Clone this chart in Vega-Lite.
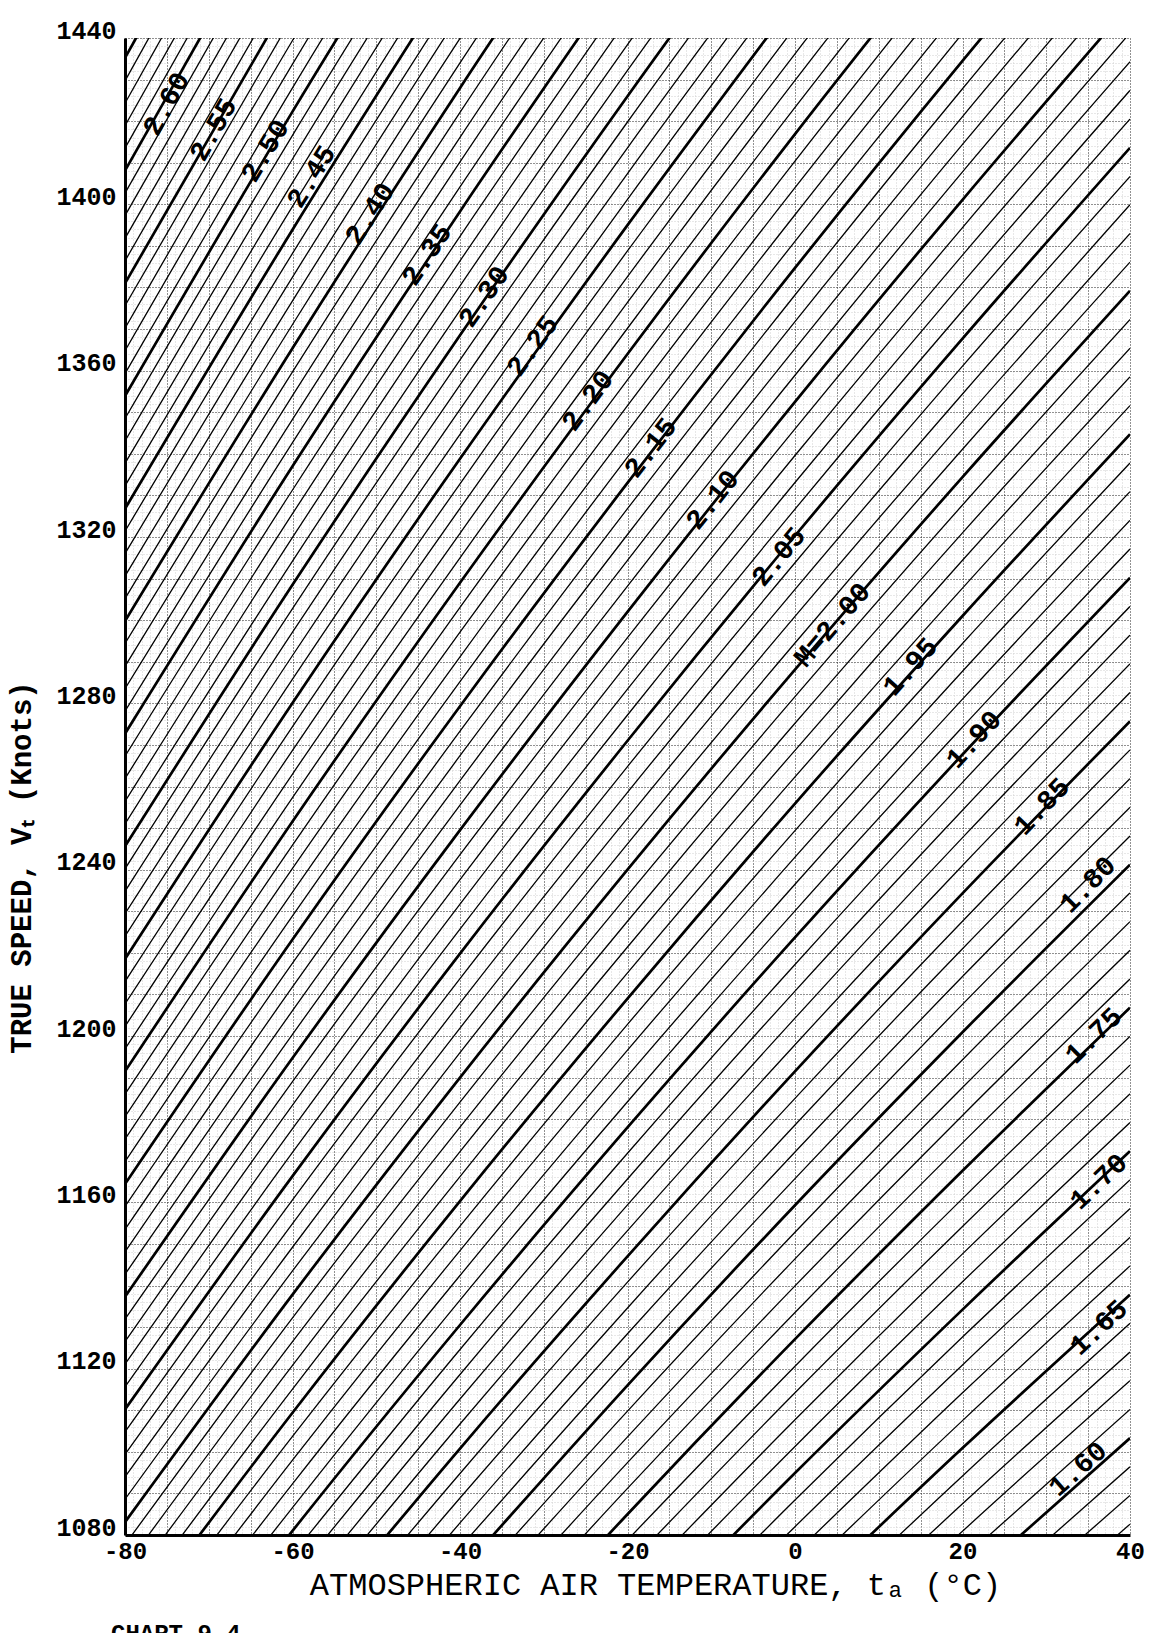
{
"$schema":"https://vega.github.io/schema/vega-lite/v6.json",
"width":1005,"height":1497,
"autosize":{"type":"none"},
"padding":{"left":125,"top":38,"right":21,"bottom":98},
"background":"white",
"config":{"view":{"stroke":null}},
"title":{"text":"CHART 9-4","orient":"bottom","anchor":"start","frame":"group","font":"Liberation Mono","fontSize":24,"fontWeight":"bold","color":"black","baseline":"top","offset":22,"dx":-14},
"datasets":{
"curves":[
{"M":1.57,"t":20,"V":1047.5},{"M":1.57,"t":40,"V":1082.6},
{"M":1.58,"t":20,"V":1054.2},{"M":1.58,"t":40,"V":1089.5},
{"M":1.59,"t":20,"V":1060.8},{"M":1.59,"t":40,"V":1096.4},
{"M":1.60,"t":20,"V":1067.5},{"M":1.60,"t":40,"V":1103.3},
{"M":1.61,"t":20,"V":1074.2},{"M":1.61,"t":40,"V":1110.2},
{"M":1.62,"t":0,"V":1043.3},{"M":1.62,"t":20,"V":1080.9},{"M":1.62,"t":40,"V":1117.1},
{"M":1.63,"t":0,"V":1049.8},{"M":1.63,"t":20,"V":1087.5},{"M":1.63,"t":40,"V":1124.0},
{"M":1.64,"t":0,"V":1056.2},{"M":1.64,"t":20,"V":1094.2},{"M":1.64,"t":40,"V":1130.9},
{"M":1.65,"t":0,"V":1062.7},{"M":1.65,"t":20,"V":1100.9},{"M":1.65,"t":40,"V":1137.8},
{"M":1.66,"t":0,"V":1069.1},{"M":1.66,"t":20,"V":1107.5},{"M":1.66,"t":40,"V":1144.7},
{"M":1.67,"t":0,"V":1075.5},{"M":1.67,"t":20,"V":1114.2},{"M":1.67,"t":40,"V":1151.6},
{"M":1.68,"t":-20,"V":1041.6},{"M":1.68,"t":0,"V":1082.0},{"M":1.68,"t":20,"V":1120.9},{"M":1.68,"t":40,"V":1158.5},
{"M":1.69,"t":-20,"V":1047.8},{"M":1.69,"t":0,"V":1088.4},{"M":1.69,"t":20,"V":1127.6},{"M":1.69,"t":40,"V":1165.4},
{"M":1.70,"t":-20,"V":1054.0},{"M":1.70,"t":0,"V":1094.9},{"M":1.70,"t":20,"V":1134.2},{"M":1.70,"t":40,"V":1172.3},
{"M":1.71,"t":-20,"V":1060.2},{"M":1.71,"t":0,"V":1101.3},{"M":1.71,"t":20,"V":1140.9},{"M":1.71,"t":40,"V":1179.2},
{"M":1.72,"t":-20,"V":1066.4},{"M":1.72,"t":0,"V":1107.7},{"M":1.72,"t":20,"V":1147.6},{"M":1.72,"t":40,"V":1186.1},
{"M":1.73,"t":-20,"V":1072.6},{"M":1.73,"t":0,"V":1114.2},{"M":1.73,"t":20,"V":1154.2},{"M":1.73,"t":40,"V":1193.0},
{"M":1.74,"t":-20,"V":1078.8},{"M":1.74,"t":0,"V":1120.6},{"M":1.74,"t":20,"V":1160.9},{"M":1.74,"t":40,"V":1199.9},
{"M":1.75,"t":-40,"V":1041.3},{"M":1.75,"t":-20,"V":1085.0},{"M":1.75,"t":0,"V":1127.1},{"M":1.75,"t":20,"V":1167.6},{"M":1.75,"t":40,"V":1206.8},
{"M":1.76,"t":-40,"V":1047.2},{"M":1.76,"t":-20,"V":1091.2},{"M":1.76,"t":0,"V":1133.5},{"M":1.76,"t":20,"V":1174.3},{"M":1.76,"t":40,"V":1213.7},
{"M":1.77,"t":-40,"V":1053.2},{"M":1.77,"t":-20,"V":1097.4},{"M":1.77,"t":0,"V":1139.9},{"M":1.77,"t":20,"V":1180.9},{"M":1.77,"t":40,"V":1220.6},
{"M":1.78,"t":-40,"V":1059.1},{"M":1.78,"t":-20,"V":1103.6},{"M":1.78,"t":0,"V":1146.4},{"M":1.78,"t":20,"V":1187.6},{"M":1.78,"t":40,"V":1227.5},
{"M":1.79,"t":-40,"V":1065.1},{"M":1.79,"t":-20,"V":1109.8},{"M":1.79,"t":0,"V":1152.8},{"M":1.79,"t":20,"V":1194.3},{"M":1.79,"t":40,"V":1234.4},
{"M":1.80,"t":-40,"V":1071.0},{"M":1.80,"t":-20,"V":1116.0},{"M":1.80,"t":0,"V":1159.3},{"M":1.80,"t":20,"V":1200.9},{"M":1.80,"t":40,"V":1241.2},
{"M":1.81,"t":-40,"V":1077.0},{"M":1.81,"t":-20,"V":1122.2},{"M":1.81,"t":0,"V":1165.7},{"M":1.81,"t":20,"V":1207.6},{"M":1.81,"t":40,"V":1248.1},
{"M":1.82,"t":-60,"V":1035.4},{"M":1.82,"t":-40,"V":1082.9},{"M":1.82,"t":-20,"V":1128.4},{"M":1.82,"t":0,"V":1172.1},{"M":1.82,"t":20,"V":1214.3},{"M":1.82,"t":40,"V":1255.0},
{"M":1.83,"t":-60,"V":1041.1},{"M":1.83,"t":-40,"V":1088.9},{"M":1.83,"t":-20,"V":1134.6},{"M":1.83,"t":0,"V":1178.6},{"M":1.83,"t":20,"V":1221.0},{"M":1.83,"t":40,"V":1261.9},
{"M":1.84,"t":-60,"V":1046.8},{"M":1.84,"t":-40,"V":1094.8},{"M":1.84,"t":-20,"V":1140.8},{"M":1.84,"t":0,"V":1185.0},{"M":1.84,"t":20,"V":1227.6},{"M":1.84,"t":40,"V":1268.8},
{"M":1.85,"t":-60,"V":1052.5},{"M":1.85,"t":-40,"V":1100.8},{"M":1.85,"t":-20,"V":1147.0},{"M":1.85,"t":0,"V":1191.5},{"M":1.85,"t":20,"V":1234.3},{"M":1.85,"t":40,"V":1275.7},
{"M":1.86,"t":-60,"V":1058.2},{"M":1.86,"t":-40,"V":1106.7},{"M":1.86,"t":-20,"V":1153.2},{"M":1.86,"t":0,"V":1197.9},{"M":1.86,"t":20,"V":1241.0},{"M":1.86,"t":40,"V":1282.6},
{"M":1.87,"t":-60,"V":1063.9},{"M":1.87,"t":-40,"V":1112.7},{"M":1.87,"t":-20,"V":1159.4},{"M":1.87,"t":0,"V":1204.3},{"M":1.87,"t":20,"V":1247.7},{"M":1.87,"t":40,"V":1289.5},
{"M":1.88,"t":-60,"V":1069.6},{"M":1.88,"t":-40,"V":1118.6},{"M":1.88,"t":-20,"V":1165.6},{"M":1.88,"t":0,"V":1210.8},{"M":1.88,"t":20,"V":1254.3},{"M":1.88,"t":40,"V":1296.4},
{"M":1.89,"t":-60,"V":1075.3},{"M":1.89,"t":-40,"V":1124.6},{"M":1.89,"t":-20,"V":1171.8},{"M":1.89,"t":0,"V":1217.2},{"M":1.89,"t":20,"V":1261.0},{"M":1.89,"t":40,"V":1303.3},
{"M":1.90,"t":-80,"V":1029.0},{"M":1.90,"t":-60,"V":1081.0},{"M":1.90,"t":-40,"V":1130.5},{"M":1.90,"t":-20,"V":1178.0},{"M":1.90,"t":0,"V":1223.7},{"M":1.90,"t":20,"V":1267.7},{"M":1.90,"t":40,"V":1310.2},
{"M":1.91,"t":-80,"V":1034.4},{"M":1.91,"t":-60,"V":1086.6},{"M":1.91,"t":-40,"V":1136.5},{"M":1.91,"t":-20,"V":1184.2},{"M":1.91,"t":0,"V":1230.1},{"M":1.91,"t":20,"V":1274.3},{"M":1.91,"t":40,"V":1317.1},
{"M":1.92,"t":-80,"V":1039.8},{"M":1.92,"t":-60,"V":1092.3},{"M":1.92,"t":-40,"V":1142.4},{"M":1.92,"t":-20,"V":1190.4},{"M":1.92,"t":0,"V":1236.5},{"M":1.92,"t":20,"V":1281.0},{"M":1.92,"t":40,"V":1324.0},
{"M":1.93,"t":-80,"V":1045.2},{"M":1.93,"t":-60,"V":1098.0},{"M":1.93,"t":-40,"V":1148.4},{"M":1.93,"t":-20,"V":1196.6},{"M":1.93,"t":0,"V":1243.0},{"M":1.93,"t":20,"V":1287.7},{"M":1.93,"t":40,"V":1330.9},
{"M":1.94,"t":-80,"V":1050.7},{"M":1.94,"t":-60,"V":1103.7},{"M":1.94,"t":-40,"V":1154.3},{"M":1.94,"t":-20,"V":1202.8},{"M":1.94,"t":0,"V":1249.4},{"M":1.94,"t":20,"V":1294.4},{"M":1.94,"t":40,"V":1337.8},
{"M":1.95,"t":-80,"V":1056.1},{"M":1.95,"t":-60,"V":1109.4},{"M":1.95,"t":-40,"V":1160.3},{"M":1.95,"t":-20,"V":1209.0},{"M":1.95,"t":0,"V":1255.9},{"M":1.95,"t":20,"V":1301.0},{"M":1.95,"t":40,"V":1344.7},
{"M":1.96,"t":-80,"V":1061.5},{"M":1.96,"t":-60,"V":1115.1},{"M":1.96,"t":-40,"V":1166.2},{"M":1.96,"t":-20,"V":1215.2},{"M":1.96,"t":0,"V":1262.3},{"M":1.96,"t":20,"V":1307.7},{"M":1.96,"t":40,"V":1351.6},
{"M":1.97,"t":-80,"V":1066.9},{"M":1.97,"t":-60,"V":1120.8},{"M":1.97,"t":-40,"V":1172.2},{"M":1.97,"t":-20,"V":1221.4},{"M":1.97,"t":0,"V":1268.7},{"M":1.97,"t":20,"V":1314.4},{"M":1.97,"t":40,"V":1358.5},
{"M":1.98,"t":-80,"V":1072.3},{"M":1.98,"t":-60,"V":1126.5},{"M":1.98,"t":-40,"V":1178.1},{"M":1.98,"t":-20,"V":1227.6},{"M":1.98,"t":0,"V":1275.2},{"M":1.98,"t":20,"V":1321.0},{"M":1.98,"t":40,"V":1365.4},
{"M":1.99,"t":-80,"V":1077.7},{"M":1.99,"t":-60,"V":1132.2},{"M":1.99,"t":-40,"V":1184.1},{"M":1.99,"t":-20,"V":1233.8},{"M":1.99,"t":0,"V":1281.6},{"M":1.99,"t":20,"V":1327.7},{"M":1.99,"t":40,"V":1372.3},
{"M":2.00,"t":-80,"V":1083.1},{"M":2.00,"t":-60,"V":1137.8},{"M":2.00,"t":-40,"V":1190.0},{"M":2.00,"t":-20,"V":1240.0},{"M":2.00,"t":0,"V":1288.1},{"M":2.00,"t":20,"V":1334.4},{"M":2.00,"t":40,"V":1379.2},
{"M":2.01,"t":-80,"V":1088.6},{"M":2.01,"t":-60,"V":1143.5},{"M":2.01,"t":-40,"V":1196.0},{"M":2.01,"t":-20,"V":1246.2},{"M":2.01,"t":0,"V":1294.5},{"M":2.01,"t":20,"V":1341.1},{"M":2.01,"t":40,"V":1386.1},
{"M":2.02,"t":-80,"V":1094.0},{"M":2.02,"t":-60,"V":1149.2},{"M":2.02,"t":-40,"V":1201.9},{"M":2.02,"t":-20,"V":1252.4},{"M":2.02,"t":0,"V":1300.9},{"M":2.02,"t":20,"V":1347.7},{"M":2.02,"t":40,"V":1393.0},
{"M":2.03,"t":-80,"V":1099.4},{"M":2.03,"t":-60,"V":1154.9},{"M":2.03,"t":-40,"V":1207.9},{"M":2.03,"t":-20,"V":1258.6},{"M":2.03,"t":0,"V":1307.4},{"M":2.03,"t":20,"V":1354.4},{"M":2.03,"t":40,"V":1399.9},
{"M":2.04,"t":-80,"V":1104.8},{"M":2.04,"t":-60,"V":1160.6},{"M":2.04,"t":-40,"V":1213.8},{"M":2.04,"t":-20,"V":1264.8},{"M":2.04,"t":0,"V":1313.8},{"M":2.04,"t":20,"V":1361.1},{"M":2.04,"t":40,"V":1406.7},
{"M":2.05,"t":-80,"V":1110.2},{"M":2.05,"t":-60,"V":1166.3},{"M":2.05,"t":-40,"V":1219.8},{"M":2.05,"t":-20,"V":1271.0},{"M":2.05,"t":0,"V":1320.3},{"M":2.05,"t":20,"V":1367.7},{"M":2.05,"t":40,"V":1413.6},
{"M":2.06,"t":-80,"V":1115.6},{"M":2.06,"t":-60,"V":1172.0},{"M":2.06,"t":-40,"V":1225.7},{"M":2.06,"t":-20,"V":1277.2},{"M":2.06,"t":0,"V":1326.7},{"M":2.06,"t":20,"V":1374.4},{"M":2.06,"t":40,"V":1420.5},
{"M":2.07,"t":-80,"V":1121.1},{"M":2.07,"t":-60,"V":1177.7},{"M":2.07,"t":-40,"V":1231.7},{"M":2.07,"t":-20,"V":1283.4},{"M":2.07,"t":0,"V":1333.1},{"M":2.07,"t":20,"V":1381.1},{"M":2.07,"t":40,"V":1427.4},
{"M":2.08,"t":-80,"V":1126.5},{"M":2.08,"t":-60,"V":1183.4},{"M":2.08,"t":-40,"V":1237.6},{"M":2.08,"t":-20,"V":1289.6},{"M":2.08,"t":0,"V":1339.6},{"M":2.08,"t":20,"V":1387.8},{"M":2.08,"t":40,"V":1434.3},
{"M":2.09,"t":-80,"V":1131.9},{"M":2.09,"t":-60,"V":1189.0},{"M":2.09,"t":-40,"V":1243.6},{"M":2.09,"t":-20,"V":1295.8},{"M":2.09,"t":0,"V":1346.0},{"M":2.09,"t":20,"V":1394.4},{"M":2.09,"t":40,"V":1441.2},
{"M":2.10,"t":-80,"V":1137.3},{"M":2.10,"t":-60,"V":1194.7},{"M":2.10,"t":-40,"V":1249.5},{"M":2.10,"t":-20,"V":1302.0},{"M":2.10,"t":0,"V":1352.5},{"M":2.10,"t":20,"V":1401.1},{"M":2.10,"t":40,"V":1448.1},
{"M":2.11,"t":-80,"V":1142.7},{"M":2.11,"t":-60,"V":1200.4},{"M":2.11,"t":-40,"V":1255.5},{"M":2.11,"t":-20,"V":1308.2},{"M":2.11,"t":0,"V":1358.9},{"M":2.11,"t":20,"V":1407.8},{"M":2.11,"t":40,"V":1455.0},
{"M":2.12,"t":-80,"V":1148.1},{"M":2.12,"t":-60,"V":1206.1},{"M":2.12,"t":-40,"V":1261.4},{"M":2.12,"t":-20,"V":1314.4},{"M":2.12,"t":0,"V":1365.3},{"M":2.12,"t":20,"V":1414.4},{"M":2.12,"t":40,"V":1461.9},
{"M":2.13,"t":-80,"V":1153.5},{"M":2.13,"t":-60,"V":1211.8},{"M":2.13,"t":-40,"V":1267.4},{"M":2.13,"t":-20,"V":1320.6},{"M":2.13,"t":0,"V":1371.8},{"M":2.13,"t":20,"V":1421.1},{"M":2.13,"t":40,"V":1468.8},
{"M":2.14,"t":-80,"V":1159.0},{"M":2.14,"t":-60,"V":1217.5},{"M":2.14,"t":-40,"V":1273.3},{"M":2.14,"t":-20,"V":1326.8},{"M":2.14,"t":0,"V":1378.2},{"M":2.14,"t":20,"V":1427.8},{"M":2.14,"t":40,"V":1475.7},
{"M":2.15,"t":-80,"V":1164.4},{"M":2.15,"t":-60,"V":1223.2},{"M":2.15,"t":-40,"V":1279.3},{"M":2.15,"t":-20,"V":1333.0},{"M":2.15,"t":0,"V":1384.7},{"M":2.15,"t":20,"V":1434.5},{"M":2.15,"t":40,"V":1482.6},
{"M":2.16,"t":-80,"V":1169.8},{"M":2.16,"t":-60,"V":1228.9},{"M":2.16,"t":-40,"V":1285.2},{"M":2.16,"t":-20,"V":1339.2},{"M":2.16,"t":0,"V":1391.1},{"M":2.16,"t":20,"V":1441.1},
{"M":2.17,"t":-80,"V":1175.2},{"M":2.17,"t":-60,"V":1234.6},{"M":2.17,"t":-40,"V":1291.2},{"M":2.17,"t":-20,"V":1345.4},{"M":2.17,"t":0,"V":1397.5},{"M":2.17,"t":20,"V":1447.8},
{"M":2.18,"t":-80,"V":1180.6},{"M":2.18,"t":-60,"V":1240.3},{"M":2.18,"t":-40,"V":1297.1},{"M":2.18,"t":-20,"V":1351.6},{"M":2.18,"t":0,"V":1404.0},{"M":2.18,"t":20,"V":1454.5},
{"M":2.19,"t":-80,"V":1186.0},{"M":2.19,"t":-60,"V":1245.9},{"M":2.19,"t":-40,"V":1303.1},{"M":2.19,"t":-20,"V":1357.8},{"M":2.19,"t":0,"V":1410.4},{"M":2.19,"t":20,"V":1461.2},
{"M":2.20,"t":-80,"V":1191.5},{"M":2.20,"t":-60,"V":1251.6},{"M":2.20,"t":-40,"V":1309.0},{"M":2.20,"t":-20,"V":1364.0},{"M":2.20,"t":0,"V":1416.9},{"M":2.20,"t":20,"V":1467.8},
{"M":2.21,"t":-80,"V":1196.9},{"M":2.21,"t":-60,"V":1257.3},{"M":2.21,"t":-40,"V":1315.0},{"M":2.21,"t":-20,"V":1370.2},{"M":2.21,"t":0,"V":1423.3},{"M":2.21,"t":20,"V":1474.5},
{"M":2.22,"t":-80,"V":1202.3},{"M":2.22,"t":-60,"V":1263.0},{"M":2.22,"t":-40,"V":1320.9},{"M":2.22,"t":-20,"V":1376.4},{"M":2.22,"t":0,"V":1429.8},{"M":2.22,"t":20,"V":1481.2},
{"M":2.23,"t":-80,"V":1207.7},{"M":2.23,"t":-60,"V":1268.7},{"M":2.23,"t":-40,"V":1326.9},{"M":2.23,"t":-20,"V":1382.6},{"M":2.23,"t":0,"V":1436.2},{"M":2.23,"t":20,"V":1487.8},
{"M":2.24,"t":-80,"V":1213.1},{"M":2.24,"t":-60,"V":1274.4},{"M":2.24,"t":-40,"V":1332.8},{"M":2.24,"t":-20,"V":1388.8},{"M":2.24,"t":0,"V":1442.6},
{"M":2.25,"t":-80,"V":1218.5},{"M":2.25,"t":-60,"V":1280.1},{"M":2.25,"t":-40,"V":1338.8},{"M":2.25,"t":-20,"V":1395.0},{"M":2.25,"t":0,"V":1449.1},
{"M":2.26,"t":-80,"V":1224.0},{"M":2.26,"t":-60,"V":1285.8},{"M":2.26,"t":-40,"V":1344.7},{"M":2.26,"t":-20,"V":1401.2},{"M":2.26,"t":0,"V":1455.5},
{"M":2.27,"t":-80,"V":1229.4},{"M":2.27,"t":-60,"V":1291.5},{"M":2.27,"t":-40,"V":1350.7},{"M":2.27,"t":-20,"V":1407.4},{"M":2.27,"t":0,"V":1462.0},
{"M":2.28,"t":-80,"V":1234.8},{"M":2.28,"t":-60,"V":1297.1},{"M":2.28,"t":-40,"V":1356.6},{"M":2.28,"t":-20,"V":1413.6},{"M":2.28,"t":0,"V":1468.4},
{"M":2.29,"t":-80,"V":1240.2},{"M":2.29,"t":-60,"V":1302.8},{"M":2.29,"t":-40,"V":1362.6},{"M":2.29,"t":-20,"V":1419.8},{"M":2.29,"t":0,"V":1474.8},
{"M":2.30,"t":-80,"V":1245.6},{"M":2.30,"t":-60,"V":1308.5},{"M":2.30,"t":-40,"V":1368.5},{"M":2.30,"t":-20,"V":1426.0},{"M":2.30,"t":0,"V":1481.3},
{"M":2.31,"t":-80,"V":1251.0},{"M":2.31,"t":-60,"V":1314.2},{"M":2.31,"t":-40,"V":1374.5},{"M":2.31,"t":-20,"V":1432.2},{"M":2.31,"t":0,"V":1487.7},
{"M":2.32,"t":-80,"V":1256.4},{"M":2.32,"t":-60,"V":1319.9},{"M":2.32,"t":-40,"V":1380.4},{"M":2.32,"t":-20,"V":1438.4},{"M":2.32,"t":0,"V":1494.2},
{"M":2.33,"t":-80,"V":1261.9},{"M":2.33,"t":-60,"V":1325.6},{"M":2.33,"t":-40,"V":1386.4},{"M":2.33,"t":-20,"V":1444.6},
{"M":2.34,"t":-80,"V":1267.3},{"M":2.34,"t":-60,"V":1331.3},{"M":2.34,"t":-40,"V":1392.3},{"M":2.34,"t":-20,"V":1450.8},
{"M":2.35,"t":-80,"V":1272.7},{"M":2.35,"t":-60,"V":1337.0},{"M":2.35,"t":-40,"V":1398.3},{"M":2.35,"t":-20,"V":1457.0},
{"M":2.36,"t":-80,"V":1278.1},{"M":2.36,"t":-60,"V":1342.7},{"M":2.36,"t":-40,"V":1404.2},{"M":2.36,"t":-20,"V":1463.2},
{"M":2.37,"t":-80,"V":1283.5},{"M":2.37,"t":-60,"V":1348.3},{"M":2.37,"t":-40,"V":1410.2},{"M":2.37,"t":-20,"V":1469.4},
{"M":2.38,"t":-80,"V":1288.9},{"M":2.38,"t":-60,"V":1354.0},{"M":2.38,"t":-40,"V":1416.1},{"M":2.38,"t":-20,"V":1475.6},
{"M":2.39,"t":-80,"V":1294.4},{"M":2.39,"t":-60,"V":1359.7},{"M":2.39,"t":-40,"V":1422.1},{"M":2.39,"t":-20,"V":1481.8},
{"M":2.40,"t":-80,"V":1299.8},{"M":2.40,"t":-60,"V":1365.4},{"M":2.40,"t":-40,"V":1428.0},{"M":2.40,"t":-20,"V":1488.0},
{"M":2.41,"t":-80,"V":1305.2},{"M":2.41,"t":-60,"V":1371.1},{"M":2.41,"t":-40,"V":1434.0},{"M":2.41,"t":-20,"V":1494.2},
{"M":2.42,"t":-80,"V":1310.6},{"M":2.42,"t":-60,"V":1376.8},{"M":2.42,"t":-40,"V":1439.9},{"M":2.42,"t":-20,"V":1500.4},
{"M":2.43,"t":-80,"V":1316.0},{"M":2.43,"t":-60,"V":1382.5},{"M":2.43,"t":-40,"V":1445.9},
{"M":2.44,"t":-80,"V":1321.4},{"M":2.44,"t":-60,"V":1388.2},{"M":2.44,"t":-40,"V":1451.8},
{"M":2.45,"t":-80,"V":1326.8},{"M":2.45,"t":-60,"V":1393.9},{"M":2.45,"t":-40,"V":1457.8},
{"M":2.46,"t":-80,"V":1332.3},{"M":2.46,"t":-60,"V":1399.5},{"M":2.46,"t":-40,"V":1463.7},
{"M":2.47,"t":-80,"V":1337.7},{"M":2.47,"t":-60,"V":1405.2},{"M":2.47,"t":-40,"V":1469.7},
{"M":2.48,"t":-80,"V":1343.1},{"M":2.48,"t":-60,"V":1410.9},{"M":2.48,"t":-40,"V":1475.6},
{"M":2.49,"t":-80,"V":1348.5},{"M":2.49,"t":-60,"V":1416.6},{"M":2.49,"t":-40,"V":1481.6},
{"M":2.50,"t":-80,"V":1353.9},{"M":2.50,"t":-60,"V":1422.3},{"M":2.50,"t":-40,"V":1487.5},
{"M":2.51,"t":-80,"V":1359.3},{"M":2.51,"t":-60,"V":1428.0},{"M":2.51,"t":-40,"V":1493.5},
{"M":2.52,"t":-80,"V":1364.8},{"M":2.52,"t":-60,"V":1433.7},{"M":2.52,"t":-40,"V":1499.4},
{"M":2.53,"t":-80,"V":1370.2},{"M":2.53,"t":-60,"V":1439.4},{"M":2.53,"t":-40,"V":1505.4},
{"M":2.54,"t":-80,"V":1375.6},{"M":2.54,"t":-60,"V":1445.1},
{"M":2.55,"t":-80,"V":1381.0},{"M":2.55,"t":-60,"V":1450.7},
{"M":2.56,"t":-80,"V":1386.4},{"M":2.56,"t":-60,"V":1456.4},
{"M":2.57,"t":-80,"V":1391.8},{"M":2.57,"t":-60,"V":1462.1},
{"M":2.58,"t":-80,"V":1397.3},{"M":2.58,"t":-60,"V":1467.8},
{"M":2.59,"t":-80,"V":1402.7},{"M":2.59,"t":-60,"V":1473.5},
{"M":2.60,"t":-80,"V":1408.1},{"M":2.60,"t":-60,"V":1479.2},
{"M":2.61,"t":-80,"V":1413.5},{"M":2.61,"t":-60,"V":1484.9},
{"M":2.62,"t":-80,"V":1418.9},{"M":2.62,"t":-60,"V":1490.6},
{"M":2.63,"t":-80,"V":1424.3},{"M":2.63,"t":-60,"V":1496.3},
{"M":2.64,"t":-80,"V":1429.7},{"M":2.64,"t":-60,"V":1502.0},
{"M":2.65,"t":-80,"V":1435.2},{"M":2.65,"t":-60,"V":1507.6}
],
"labels":[
{"label":"2.60","M":2.60,"t":-75.0,"V":1424.1},
{"label":"2.55","M":2.55,"t":-69.4,"V":1417.9},
{"label":"2.50","M":2.50,"t":-63.2,"V":1412.8},
{"label":"2.45","M":2.45,"t":-57.7,"V":1406.6},
{"label":"2.40","M":2.40,"t":-50.7,"V":1397.7},
{"label":"2.35","M":2.35,"t":-43.9,"V":1387.8},
{"label":"2.30","M":2.30,"t":-37.1,"V":1377.7},
{"label":"2.25","M":2.25,"t":-31.3,"V":1365.9},
{"label":"2.20","M":2.20,"t":-24.7,"V":1352.7},
{"label":"2.15","M":2.15,"t":-17.2,"V":1341.4},
{"label":"2.10","M":2.10,"t":-9.8,"V":1328.9},
{"label":"2.05","M":2.05,"t":-1.9,"V":1315.2},
{"label":"M=2.00","M":2.00,"t":4.5,"V":1298.8},
{"label":"1.95","M":1.95,"t":13.8,"V":1288.7},
{"label":"1.90","M":1.90,"t":21.4,"V":1271.2},
{"label":"1.85","M":1.85,"t":29.5,"V":1255.1},
{"label":"1.80","M":1.80,"t":35.0,"V":1236.3},
{"label":"1.75","M":1.75,"t":35.7,"V":1200.0},
{"label":"1.70","M":1.70,"t":36.3,"V":1164.9},
{"label":"1.65","M":1.65,"t":36.3,"V":1129.8},
{"label":"1.60","M":1.60,"t":33.8,"V":1095.8}
]
},
"encoding":{
"x":{"field":"t","type":"quantitative","scale":{"domain":[-80,40],"nice":false,"zero":false},
"axis":{"values":[-80,-79,-78,-77,-76,-75,-74,-73,-72,-71,-70,-69,-68,-67,-66,-65,-64,-63,-62,-61,-60,-59,-58,-57,-56,-55,-54,-53,-52,-51,-50,-49,-48,-47,-46,-45,-44,-43,-42,-41,-40,-39,-38,-37,-36,-35,-34,-33,-32,-31,-30,-29,-28,-27,-26,-25,-24,-23,-22,-21,-20,-19,-18,-17,-16,-15,-14,-13,-12,-11,-10,-9,-8,-7,-6,-5,-4,-3,-2,-1,0,1,2,3,4,5,6,7,8,9,10,11,12,13,14,15,16,17,18,19,20,21,22,23,24,25,26,27,28,29,30,31,32,33,34,35,36,37,38,39,40],
"grid":true,
"gridColor":{"condition":{"test":"datum.value % 5 === 0","value":"#222222"},"value":"#d0d0d0"},
"gridDash":[1,2],"gridWidth":1,
"ticks":false,"domain":true,"domainColor":"black","domainWidth":3,
"labelExpr":"datum.value % 20 === 0 ? '' + datum.value : ''",
"labelOverlap":false,"labelBound":false,"labelFlush":false,
"labelFont":"Liberation Mono","labelFontSize":24,"labelFontWeight":"bold","labelColor":"black","labelPadding":4,
"title":"ATMOSPHERIC AIR TEMPERATURE,   tₐ (°C)",
"titleFont":"Liberation Mono","titleFontSize":32,"titleFontWeight":"normal","titleColor":"black",
"titleX":530,"titleY":59,"titleBaseline":"alphabetic","titleAlign":"center"}},
"y":{"field":"V","type":"quantitative","scale":{"domain":[1080,1440],"nice":false,"zero":false},
"axis":{"values":[1080,1082,1084,1086,1088,1090,1092,1094,1096,1098,1100,1102,1104,1106,1108,1110,1112,1114,1116,1118,1120,1122,1124,1126,1128,1130,1132,1134,1136,1138,1140,1142,1144,1146,1148,1150,1152,1154,1156,1158,1160,1162,1164,1166,1168,1170,1172,1174,1176,1178,1180,1182,1184,1186,1188,1190,1192,1194,1196,1198,1200,1202,1204,1206,1208,1210,1212,1214,1216,1218,1220,1222,1224,1226,1228,1230,1232,1234,1236,1238,1240,1242,1244,1246,1248,1250,1252,1254,1256,1258,1260,1262,1264,1266,1268,1270,1272,1274,1276,1278,1280,1282,1284,1286,1288,1290,1292,1294,1296,1298,1300,1302,1304,1306,1308,1310,1312,1314,1316,1318,1320,1322,1324,1326,1328,1330,1332,1334,1336,1338,1340,1342,1344,1346,1348,1350,1352,1354,1356,1358,1360,1362,1364,1366,1368,1370,1372,1374,1376,1378,1380,1382,1384,1386,1388,1390,1392,1394,1396,1398,1400,1402,1404,1406,1408,1410,1412,1414,1416,1418,1420,1422,1424,1426,1428,1430,1432,1434,1436,1438,1440],
"grid":true,
"gridColor":{"condition":{"test":"datum.value % 10 === 0","value":"#222222"},"value":"#d0d0d0"},
"gridDash":[1,2],"gridWidth":1,
"ticks":false,"domain":true,"domainColor":"black","domainWidth":3,
"labelExpr":"datum.value % 40 === 0 ? '' + datum.value : ''",
"labelOverlap":false,"labelBound":false,"labelFlush":false,
"labelFont":"Liberation Mono","labelFontSize":25,"labelFontWeight":"bold","labelColor":"black","labelPadding":9,"labelBaseline":"alphabetic",
"title":"TRUE SPEED, Vₜ  (Knots)",
"titleFont":"Liberation Mono","titleFontSize":29,"titleFontWeight":"bold","titleColor":"black",
"titleX":-104,"titleY":829,"titleBaseline":"middle","titleAlign":"center","titleAngle":270}}
},
"layer":[
{"data":{"name":"curves"},"transform":[{"filter":"abs(datum.M*20 - round(datum.M*20)) > 0.01"}],
"mark":{"type":"line","clip":true,"interpolate":"monotone","stroke":"black","strokeWidth":1.3},
"encoding":{"detail":{"field":"M","type":"quantitative"}}},
{"data":{"name":"curves"},"transform":[{"filter":"abs(datum.M*20 - round(datum.M*20)) <= 0.01"}],
"mark":{"type":"line","clip":true,"interpolate":"monotone","stroke":"black","strokeWidth":2.7},
"encoding":{"detail":{"field":"M","type":"quantitative"}}},
{"data":{"name":"labels"},
"mark":{"type":"text","font":"Liberation Mono","fontSize":28,"fontWeight":"bold","color":"black","align":"center","baseline":"middle"},
"encoding":{"text":{"field":"label","type":"nominal"},
"angle":{"field":"M","type":"quantitative","scale":{"domain":[1.6,2.6],"range":[318.5,299]}}}}
]
}
